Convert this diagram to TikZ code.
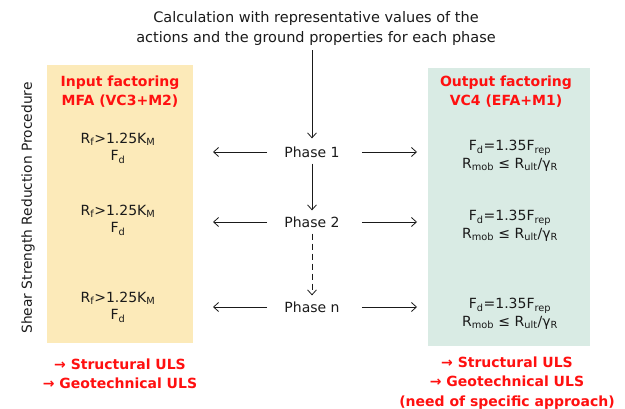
\documentclass[tikz,border=0pt]{standalone}
\usepackage{fontspec}
\setmainfont{DejaVu Sans}
\usetikzlibrary{arrows.meta}
\definecolor{txt}{HTML}{1A1A1A}
\definecolor{ured}{HTML}{FF1010}
\definecolor{ybox}{HTML}{FCEAB9}
\definecolor{gbox}{HTML}{D9EBE4}
\newcommand{\sbs}[1]{\textsubscript{#1}}
\begin{document}
\begin{tikzpicture}[x=1pt,y=-1pt,
  every node/.style={text=txt,font=\fontsize{14}{16}\selectfont,inner sep=0pt},
  formula/.style={align=center,font=\fontsize{14}{17.5}\selectfont},
  title/.style={align=center,text=ured,font=\bfseries\fontsize{14}{19}\selectfont},
  red/.style={align=center,text=ured,font=\bfseries\fontsize{14}{19.5}\selectfont},
  conn/.style={draw=txt,line width=0.8pt,-{Straight Barb[length=5pt,width=9pt]}},
  phase/.style={font=\fontsize{14}{16}\selectfont}]
\useasboundingbox (0,0) rectangle (625,409);
\fill[ybox] (47,65) rectangle (193,343);
\fill[gbox] (428,68) rectangle (590,346);
\node[align=center,font=\fontsize{14.5}{20}\selectfont] (top) at (316,29) {Calculation with representative values of the\\actions and the ground properties for each phase};
\node[rotate=90,font=\fontsize{13.8}{16}\selectfont] (ssr) at (28,208) {Shear Strength Reduction Procedure};
\node[title] (lt) at (120,92) {Input factoring\\MFA (VC3+M2)};
\node[title] (rt) at (506,92) {Output factoring\\VC4 (EFA+M1)};
\node[formula] (l1) at (118,148) {R\sbs{f}>1.25K\sbs{M}\\F\sbs{d}};
\node[formula] (l2) at (118,220) {R\sbs{f}>1.25K\sbs{M}\\F\sbs{d}};
\node[formula] (l3) at (118,307) {R\sbs{f}>1.25K\sbs{M}\\F\sbs{d}};
\node[formula] (r1) at (510,156) {F\sbs{d}=1.35F\sbs{rep}\\R\sbs{mob} ≤ R\sbs{ult}/γ\sbs{R}};
\node[formula] (r2) at (510,226) {F\sbs{d}=1.35F\sbs{rep}\\R\sbs{mob} ≤ R\sbs{ult}/γ\sbs{R}};
\node[formula] (r3) at (510,314) {F\sbs{d}=1.35F\sbs{rep}\\R\sbs{mob} ≤ R\sbs{ult}/γ\sbs{R}};
\node[phase] (p1) at (312,152) {Phase 1};
\node[phase] (p2) at (312,222) {Phase 2};
\node[phase] (pn) at (312,307) {Phase n};
\node[red] (lb) at (120,374) {→ Structural ULS\\→ Geotechnical ULS};
\node[red] (rb) at (507,383) {→ Structural ULS\\→ Geotechnical ULS\\(need of specific approach)};
\coordinate (a1l) at (213,152); \coordinate (a1r) at (417,152);
\coordinate (a2l) at (213,222); \coordinate (a2r) at (417,222);
\coordinate (anl) at (213,307); \coordinate (anr) at (417,307);
\draw[conn,shorten <=4pt,shorten >=8pt] (top.south -| p1) -- (p1.north);
\draw[conn,shorten <=6pt,shorten >=6pt] (p1.south) -- (p2.north);
\draw[conn,shorten <=6pt,shorten >=6pt,dash pattern=on 6pt off 4pt] (p2.south) -- (pn.north);
\draw[conn,shorten <=17pt] (p1.west) -- (a1l);
\draw[conn,shorten <=22pt] (p1.east) -- (a1r);
\draw[conn,shorten <=17pt] (p2.west) -- (a2l);
\draw[conn,shorten <=22pt] (p2.east) -- (a2r);
\draw[conn,shorten <=17pt] (pn.west) -- (anl);
\draw[conn,shorten <=22pt] (pn.east) -- (anr);
\end{tikzpicture}
\end{document}
